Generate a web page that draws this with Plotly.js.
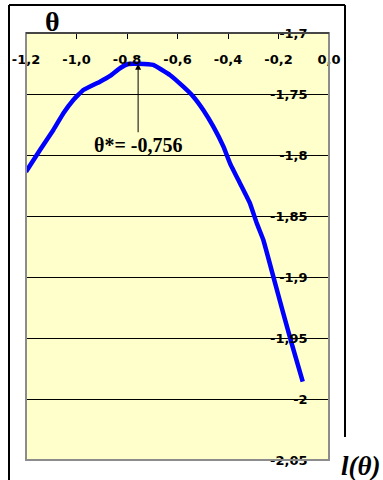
<!DOCTYPE html>
<html>
<head>
<meta charset="utf-8">
<script src="https://cdn.plot.ly/plotly-3.0.1.min.js"></script>
<style>
  html, body { margin: 0; padding: 0; background: #ffffff; }
  #chart { width: 383px; height: 480px; }
</style>
</head>
<body>
<div id="chart"></div>
<script>
// Log-likelihood l(θ) as a function of θ
const theta = [-1.2, -1.1446, -1.0917, -1.052, -1.0126, -0.973, -0.907, -0.867, -0.828, -0.795,
               -0.756, -0.696, -0.63, -0.577, -0.537, -0.498, -0.458, -0.418, -0.392, -0.3525,
               -0.313, -0.286, -0.26, -0.2205, -0.181, -0.148, -0.104];
const loglik = [-1.8137, -1.7959, -1.7795, -1.7658, -1.7549, -1.7467, -1.7399, -1.7352, -1.7289, -1.7254,
                -1.7252, -1.7262, -1.7344, -1.744, -1.7522, -1.7631, -1.7768, -1.7932, -1.8068, -1.8232,
                -1.8396, -1.856, -1.8697, -1.8997, -1.9298, -1.9544, -1.9858];

// maximum-likelihood estimate
const thetaStar = -0.756;
const lStar = -1.7252;
const thetaStarLabel = 'θ*= -0,756';

// axis ticks (decimal comma)
const xTickVals = [-1.2, -1.0, -0.8, -0.6, -0.4, -0.2, 0.0];
const xTickText = ['-1,2', '-1,0', '-0,8', '-0,6', '-0,4', '-0,2', '0,0'];
const yTickVals = [-1.7, -1.75, -1.8, -1.85, -1.9, -1.95, -2.0, -2.05];
const yTickText = ['-1,7', '-1,75', '-1,8', '-1,85', '-1,9', '-1,95', '-2', '-2,05'];

const bold = s => '<b>' + s + '</b>';
const tickFont = { family: 'DejaVu Sans', size: 13, color: '#000000', weight: 700 };

const curve = {
  x: theta,
  y: loglik,
  type: 'scatter',
  mode: 'lines',
  line: { color: '#0000ff', width: 4.5, shape: 'spline', smoothing: 0.3 },
  hoverinfo: 'skip'
};

// plot area: x 26..329 px, y 33..460 px
const L = 26, R = 329, T = 33, B = 460;
const px = v => (v - L) / (R - L);
const py = v => (B - v) / (B - T);

const layout = {
  width: 383,
  height: 480,
  margin: { l: L, r: 383 - R, t: T, b: 480 - B, pad: 0 },
  paper_bgcolor: '#ffffff',
  plot_bgcolor: '#ffffcc',
  showlegend: false,
  xaxis: {
    range: [-1.2, 0],
    side: 'top',
    tickvals: xTickVals,
    ticktext: xTickText.map(bold),
    ticks: 'inside',
    ticklen: 6,
    tickwidth: 1,
    tickcolor: '#000000',
    ticklabelposition: 'inside',
    ticklabeloverflow: 'allow',
    ticklabelstandoff: 16,
    tickfont: tickFont,
    showgrid: false,
    zeroline: false,
    showline: true,
    linecolor: '#000000',
    linewidth: 1,
    fixedrange: true
  },
  yaxis: {
    range: [-2.05, -1.7],
    side: 'right',
    tickvals: yTickVals,
    ticktext: yTickText.map(bold),
    ticks: 'inside',
    ticklen: 8,
    tickwidth: 1,
    tickcolor: '#000000',
    ticklabelposition: 'inside',
    ticklabeloverflow: 'allow',
    ticklabelstandoff: 13,
    tickfont: tickFont,
    showgrid: true,
    gridcolor: '#000000',
    gridwidth: 1,
    zeroline: false,
    showline: false,
    fixedrange: true
  },
  shapes: [
    // plot-area border
    { type: 'rect', xref: 'paper', yref: 'paper', x0: 0, x1: 1, y0: 0, y1: 1,
      line: { color: '#8c8c8c', width: 2 }, layer: 'above' },
    { type: 'line', xref: 'paper', yref: 'paper', x0: 0, x1: 1, y0: 1, y1: 1,
      line: { color: '#000000', width: 1 }, layer: 'above' },
    // outer frame
    { type: 'line', xref: 'paper', yref: 'paper', x0: px(9), x1: px(345), y0: py(5), y1: py(5),
      line: { color: '#000000', width: 2 } },
    { type: 'line', xref: 'paper', yref: 'paper', x0: px(9), x1: px(9), y0: py(5), y1: py(490),
      line: { color: '#000000', width: 2 } },
    { type: 'line', xref: 'paper', yref: 'paper', x0: px(345), x1: px(345), y0: py(5), y1: py(437),
      line: { color: '#000000', width: 2 } }
  ],
  annotations: [
    {
      x: thetaStar, y: lStar, xref: 'x', yref: 'y',
      text: bold(thetaStarLabel),
      showarrow: true, arrowhead: 2, arrowsize: 1.2, arrowwidth: 1, arrowcolor: '#000000',
      ax: 0, ay: 81,
      font: { family: 'Liberation Serif, Times New Roman, serif', size: 20, color: '#000000' }
    },
    {
      x: px(52), y: py(22), xref: 'paper', yref: 'paper',
      text: bold('θ'), showarrow: false,
      xanchor: 'center', yanchor: 'middle',
      font: { family: 'Liberation Serif, Times New Roman, serif', size: 28, color: '#000000' }
    },
    {
      x: px(339), y: py(466), xref: 'paper', yref: 'paper',
      text: '<b><i>l(θ)</i></b>', showarrow: false,
      xanchor: 'left', yanchor: 'middle',
      font: { family: 'Liberation Serif, Times New Roman, serif', size: 27, color: '#000000' }
    }
  ]
};

Plotly.newPlot('chart', [curve], layout, { displayModeBar: false, staticPlot: true });
</script>
</body>
</html>
